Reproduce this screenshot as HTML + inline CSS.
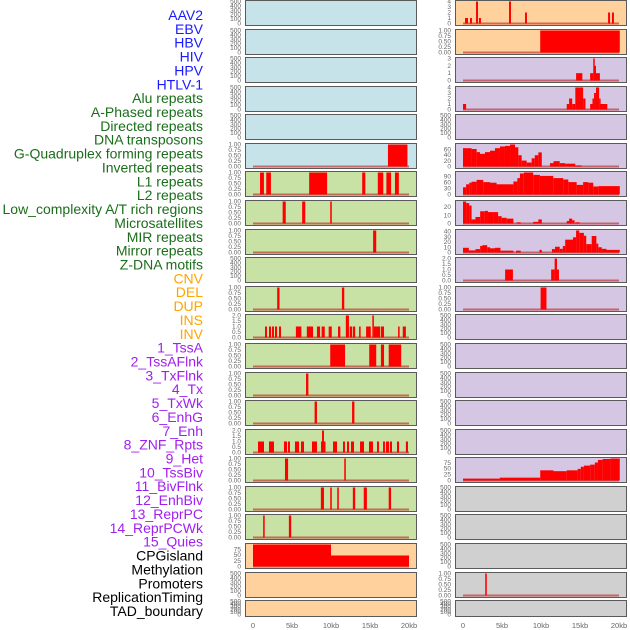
<!DOCTYPE html>
<html><head><meta charset="utf-8"><style>
html,body{margin:0;padding:0;background:#fff;}
svg{display:block;font-family:"Liberation Sans",sans-serif;}
</style></head><body>
<svg id="chart" width="630" height="630" viewBox="0 0 630 630" xmlns="http://www.w3.org/2000/svg"></svg>
<script>
// ---- labels ----
const trackLabels = ["AAV2","EBV","HBV","HIV","HPV","HTLV-1","Alu repeats","A-Phased repeats","Directed repeats","DNA transposons","G-Quadruplex forming repeats","Inverted repeats","L1 repeats","L2 repeats","Low_complexity A/T rich regions","Microsatellites","MIR repeats","Mirror repeats","Z-DNA motifs","CNV","DEL","DUP","INS","INV","1_TssA","2_TssAFlnk","3_TxFlnk","4_Tx","5_TxWk","6_EnhG","7_Enh","8_ZNF_Rpts","9_Het","10_TssBiv","11_BivFlnk","12_EnhBiv","13_ReprPC","14_ReprPCWk","15_Quies","CPGisland","Methylation","Promoters","ReplicationTiming","TAD_boundary"];
const labelGroups = [6,13,5,15,5];
const groupColors = ["#1a1aff","#1a6e1a","#ffa500","#a020f0","#000000"];
// ---- x axis ----
const xTickValues = [0,5,10,15,20];
const xTickLabels = ["0","5kb","10kb","15kb","20kb"];
// ---- y tick label sets ----
const ticks500 = [0,100,200,300,400,500];
const ticks01 = [0,0.25,0.5,0.75,1];
const ticks02 = [0,0.5,1,1.5,2];
const ticks04 = [0,1,2,3,4];
const ticks03 = [0,1,2,3];
const ticks75 = [0,25,50,75];
const ticks60 = [0,20,40,60];
const ticks90 = [0,30,60,90];
const ticks20 = [0,10,20];
const ticks40 = [0,10,20,30,40];
// ---- series (segments: [startKb, endKb, value]) ----
const gquadLeft = [[17.3,19.8,1]];
const l1Left = [[0.9,1.4,1],[1.7,2.3,1],[7.2,9.5,1],[14.0,14.4,1],[16.0,16.7,1],[17.1,17.7,1],[18.2,18.7,1]];
const lowcLeft = [[3.8,4.2,1],[6.3,6.7,1],[9.9,10.1,1]];
const mirLeft = [[15.4,15.8,1]];
const dupLeft = [[3.1,3.4,1],[11.4,11.7,1]];
const invLeft = [[1.54,1.79,1],[2.05,2.31,1],[2.44,2.69,1],[2.82,3.08,1],[3.33,3.59,1],[5.5,6.2,1],[6.9,7.7,1],[8.2,8.6,1],[8.8,9.2,1],[9.7,10.1,1],[10.9,11.2,1],[11.9,12.3,2],[12.4,12.7,1],[12.8,13.1,1],[13.6,13.8,1],[14.5,15.1,1],[15.3,15.5,2],[15.5,16.3,1],[16.4,16.8,1],[18.6,18.8,1],[19.2,19.6,1]];
const tssaflnkLeft = [[9.9,11.8,1],[14.9,15.8,1],[16.4,16.8,1],[17.4,19.0,1]];
const txLeft = [[6.8,7.1,1]];
const enhgLeft = [[7.9,8.2,1],[12.7,13.0,1]];
const znfLeft = [[0.64,1.41,1],[2.05,2.69,1],[3.97,4.36,1],[4.49,4.74,1],[5.38,5.9,1],[6.15,6.54,1],[7.56,8.2,1],[8.72,8.85,1],[8.85,9.1,2],[9.1,9.23,1],[10.26,10.77,1],[11.54,11.79,1],[12.05,12.31,1],[12.56,12.95,1],[13.72,14.23,1],[14.87,15.38,1],[15.9,16.15,1],[16.67,16.92,1],[17.05,17.44,1],[17.56,17.82,1],[18.46,18.72,1],[19.6,19.87,1]];
const tssbivLeft = [[4.1,4.5,1],[11.7,11.9,1]];
const enhbivLeft = [[8.7,9.1,1],[9.9,10.1,1],[10.8,11.0,1],[12.8,13.1,1],[14.2,14.6,1],[17.4,17.7,1]];
const reprpcwkLeft = [[1.3,1.5,1],[4.6,4.9,1]];
const cpgLeft = [[0,10,96],[10,20,48]];
const aav2Right = [[0.26,0.64,1],[0.9,1.15,1],[1.67,1.92,4],[2.05,2.3,1],[5.9,6.15,4],[7.95,8.2,2],[18.6,18.85,2],[19.1,19.35,2]];
const hbvRight = [[9.9,20.1,1]];
const hpvRight = [[14.5,15.3,1],[16.3,16.7,1],[16.7,16.8,3],[16.8,17.05,2],[17.05,17.55,1]];
const aluRight = [[0,0.4,1],[13.3,13.6,1],[13.6,14.0,2],[14.0,14.4,1],[14.4,15.4,4],[15.4,15.7,2],[16.3,16.6,1],[16.6,16.8,2],[16.8,17.05,3],[17.05,17.45,4],[17.45,17.55,2],[17.55,18.5,1]];
const gquadRight = [[0,1.1,65],[1.1,1.75,62],[1.75,2.18,51],[2.18,2.82,45],[2.82,3.46,51],[3.46,4.1,56],[4.1,4.74,65],[4.74,5.38,71],[5.38,6.03,73],[6.03,6.67,78],[6.67,7.09,68],[7.09,7.52,40],[7.52,8.16,21],[8.16,8.8,14],[8.8,9.2,29],[9.2,9.66,40],[9.66,10.1,50],[11.15,11.6,12],[11.6,12.4,19],[12.4,13.1,12],[13.1,14.4,10],[14.4,15.2,4]];
const l1Right = [[0,0.4,36],[0.4,0.8,51],[0.8,1.1,59],[1.1,1.75,64],[1.75,2.6,73],[2.6,3.46,62],[3.46,4.3,59],[4.3,6.46,51],[6.46,6.97,65],[6.97,7.3,82],[7.3,7.8,105],[7.8,9.0,110],[9.0,9.86,98],[9.86,11.57,93],[11.57,12.86,82],[12.86,13.5,75],[13.5,14.57,62],[14.57,15.4,48],[15.4,16.07,62],[16.07,16.7,59],[16.7,17.35,40],[17.35,20.1,42]];
const lowcRight = [[0,0.4,27],[0.4,0.8,25],[0.8,1.1,22],[1.1,1.6,5],[1.6,2.2,8],[2.2,2.8,15],[2.8,3.2,15.5],[3.2,3.9,14],[3.9,4.5,14],[4.5,4.96,9],[4.96,5.6,7],[5.6,6.46,6],[6.9,7.4,1.5],[9.0,9.66,2],[9.66,10.1,5],[13.3,13.6,3],[13.6,14.0,6],[14.0,14.3,4],[14.4,14.95,1.5]];
const mirRight = [[0,0.75,9],[0.75,1.6,4],[1.6,2.2,6.5],[2.2,2.5,12.5],[2.5,3.1,14],[3.1,3.46,10],[3.46,4.1,8],[4.1,4.8,9],[4.8,6.46,3.5],[6.8,7.4,3.5],[9.8,10.1,5],[11.4,11.8,6.5],[11.8,12.4,11],[12.4,12.8,7],[12.8,13.1,12.5],[13.1,14.1,24.5],[14.1,14.5,29],[14.5,14.9,42],[14.9,15.5,37.5],[15.5,15.8,32],[15.8,16.5,16],[16.5,17.1,31.5],[17.1,17.35,17],[17.35,17.8,10],[17.8,18.4,7],[18.4,20.1,5]];
const zdnaRight = [[5.4,6.4,1],[11.3,11.75,1],[11.75,12.05,2],[12.05,12.3,1]];
const delRight = [[9.95,10.7,1]];
const tssbivRight = [[0,4.7,8],[4.7,9.9,12],[9.9,11.6,43],[11.6,13.3,39.5],[13.3,14.7,43],[14.7,15.1,49],[15.1,15.5,58],[15.5,16.3,63],[16.3,16.9,67],[16.9,17.3,76],[17.3,17.9,87],[17.9,18.9,91],[18.9,20.1,93]];
const promRight = [[2.85,3.05,1]];

const BLUE="#c7e3ea", GREEN="#c8e1a4", ORANGE="#ffd19c", PURPLE="#d5c6e3", GRAY="#d0d0d0";
const leftPanels = [
 [BLUE,null,ticks500],[BLUE,null,ticks500],[BLUE,null,ticks500],[BLUE,null,ticks500],[BLUE,null,ticks500],
 [BLUE,gquadLeft,ticks01],[GREEN,l1Left,ticks01],[GREEN,lowcLeft,ticks01],[GREEN,mirLeft,ticks01],[GREEN,null,ticks500],
 [GREEN,dupLeft,ticks01],[GREEN,invLeft,ticks02],[GREEN,tssaflnkLeft,ticks01],[GREEN,txLeft,ticks01],[GREEN,enhgLeft,ticks01],
 [GREEN,znfLeft,ticks02],[GREEN,tssbivLeft,ticks01],[GREEN,enhbivLeft,ticks01],[GREEN,reprpcwkLeft,ticks01],[ORANGE,cpgLeft,ticks75],
 [ORANGE,null,ticks500],[ORANGE,null,ticks500]];
const rightPanels = [
 [ORANGE,aav2Right,ticks04],[ORANGE,hbvRight,ticks01],[PURPLE,hpvRight,ticks03],[PURPLE,aluRight,ticks04],[PURPLE,null,ticks500],
 [PURPLE,gquadRight,ticks60],[PURPLE,l1Right,ticks90],[PURPLE,lowcRight,ticks20],[PURPLE,mirRight,ticks40],[PURPLE,zdnaRight,ticks02],
 [PURPLE,delRight,ticks01],[PURPLE,null,ticks500],[PURPLE,null,ticks500],[PURPLE,null,ticks500],[PURPLE,null,ticks500],
 [PURPLE,null,ticks500],[PURPLE,tssbivRight,ticks75],[GRAY,null,ticks500],[GRAY,null,ticks500],[GRAY,null,ticks500],
 [GRAY,promRight,ticks01],[GRAY,null,ticks500]];

const NS="http://www.w3.org/2000/svg";
const svg=document.getElementById('chart');
function mk(tag,attrs,parent){const e=document.createElementNS(NS,tag);for(const k in attrs)e.setAttribute(k,attrs[k]);(parent||svg).appendChild(e);return e;}

// labels
let li=0;
labelGroups.forEach((n,g)=>{for(let j=0;j<n;j++){
  const t=mk('text',{x:203,y:(15+li*13.86+5).toFixed(1),'text-anchor':'end','font-size':'14',fill:groupColors[g]});
  t.textContent=trackLabels[li];
  
  
  li++;}});

function fmt(v,set){const maxv=set[set.length-1];if(maxv===1)return v.toFixed(2);if(maxv===2)return v.toFixed(1);return String(v);}

function drawPanel(col,i,p){
  const x0=col===0?245:455, w=171, top=Math.round(i*28.58), h=i===21?16:25;
  const bot=top+h;
  const g=mk('g',{});
  
  
  const bg=p[0], data=p[1], tks=p[2];
  mk('rect',{x:x0+0.5,y:top+0.5,width:w,height:h,fill:bg,stroke:'#5a5a5a','stroke-width':1},g);
  let ymax=500;
  if(data){ymax=Math.max(...data.map(d=>d[2]));}
  const xs=kb=>x0+8+kb*7.8;
  const ys=v=>bot-1.5-v/ymax*(h-3);
  // ticks
  tks.forEach(v=>{const t=mk('text',{x:x0-4,y:(ys(v)+2).toFixed(1),'text-anchor':'end','font-size':'6.5',fill:'#666'},g);
    t.textContent=fmt(v,tks);
    
    });
  if(data){
    mk('line',{x1:xs(0),x2:xs(20),y1:bot-1.5,y2:bot-1.5,stroke:'rgba(190,30,30,0.6)','stroke-width':2},g);
    data.forEach(d=>{const r=mk('rect',{x:xs(d[0]).toFixed(2),y:ys(d[2]).toFixed(2),width:Math.max(1.5,xs(d[1])-xs(d[0])).toFixed(2),height:(bot-1.5-ys(d[2])).toFixed(2),fill:'#ff0000'},g);
      
      });
  }
}
leftPanels.forEach((p,i)=>drawPanel(0,i,p));
rightPanels.forEach((p,i)=>drawPanel(1,i,p));

[0,1].forEach(col=>{const x0=col===0?245:455;
  xTickValues.forEach((v,k)=>{const t=mk('text',{x:x0+8+v*7.8,y:628,'text-anchor':'middle','font-size':'7.5',fill:'#666'});
    t.textContent=xTickLabels[k];
    
    });});
</script>
</body></html>
